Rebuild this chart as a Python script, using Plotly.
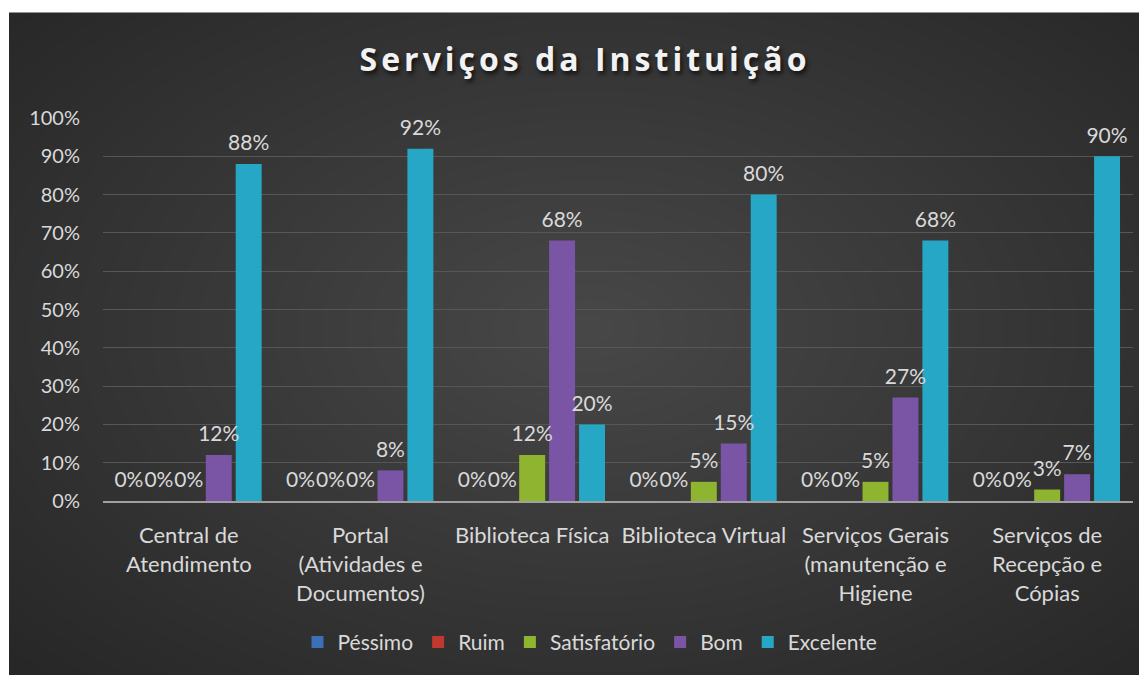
import plotly.graph_objects as go

categories = [
    "Central de<br>Atendimento",
    "Portal<br>(Atividades e<br>Documentos)",
    "Biblioteca Física",
    "Biblioteca Virtual",
    "Serviços Gerais<br>(manutenção e<br>Higiene",
    "Serviços de<br>Recepção e<br>Cópias",
]
series_names = ["Péssimo", "Ruim", "Satisfatório", "Bom", "Excelente"]
pessimo = [0, 0, 0, 0, 0, 0]
ruim = [0, 0, 0, 0, 0, 0]
satisfatorio = [0, 0, 12, 5, 5, 3]
bom = [12, 8, 68, 15, 27, 7]
excelente = [88, 92, 20, 80, 68, 90]
tick_vals = [0, 10, 20, 30, 40, 50, 60, 70, 80, 90, 100]
tick_text = ["0%", "10%", "20%", "30%", "40%", "50%", "60%", "70%", "80%", "90%", "100%"]

series_values = [pessimo, ruim, satisfatorio, bom, excelente]
colors = ["#3b6fb6", "#c0392f", "#8fb430", "#7a55a6", "#27a7c6"]

# page has an 8px body margin; figure coordinates = reference pixels - 8
OFF = 8
W, H = 1147 - OFF, 675 - OFF
ML, MR, MT, MB = 95, 14, 110, 172
PW, PH = W - ML - MR, H - MT - MB
GAP = 0.128

def px(x):  # reference pixel -> paper x
    return (x - OFF - ML) / PW

def py(y):  # reference pixel -> paper y
    return (H - MB - (y - OFF)) / PH

fig = go.Figure()
for name, vals, c in zip(series_names, series_values, colors):
    fig.add_trace(go.Bar(
        name=name, x=categories, y=vals,
        marker=dict(color=c, line=dict(width=0)),
    ))
for name, vals in zip(series_names, series_values):
    fig.add_trace(go.Scatter(
        name=name + " rótulo", x=categories, y=vals, mode="markers+text",
        marker=dict(size=12, opacity=0), showlegend=False,
        text=[f"{v}%" for v in vals], textposition="top center",
        textfont=dict(color="#d9d9d9", size=21, family="Lato"),
        cliponaxis=False, hoverinfo="skip",
    ))

shapes = [dict(type="rect", xref="paper", yref="paper",
               x0=px(9), x1=px(1160), y0=py(690), y1=py(12),
               fillcolor="#272727", line=dict(width=0), layer="below")]
cx, cy = 590, 330
n = 32
for i in range(n):
    f = 1 - i / n
    rx, ry = 780 * f, 480 * f
    shapes.append(dict(type="circle", xref="paper", yref="paper",
                       x0=px(cx - rx), x1=px(cx + rx), y0=py(cy + ry), y1=py(cy - ry),
                       fillcolor="rgba(255,255,255,0.0062)", line=dict(width=0), layer="below"))

title_html = '<span style="letter-spacing:4px"><b>Serviços da Instituição</b></span>'

fig.update_layout(
    width=W, height=H,
    margin=dict(l=ML, r=MR, t=MT, b=MB),
    paper_bgcolor="white", plot_bgcolor="rgba(0,0,0,0)",
    barmode="group", bargap=GAP, bargroupgap=0.133,
    scattermode="group", scattergap=GAP,
    font=dict(family="Lato", color="#d9d9d9", size=20),
    title=dict(text=title_html, x=(585 - OFF) / W, xanchor="center",
               y=1 - (60 - OFF) / H, yanchor="middle",
               font=dict(family="Open Sans", size=32, color="#f2f2f2",
                         shadow="2px 3px 4px #111111")),
    xaxis=dict(showline=True, linecolor="#a0a0a0", linewidth=2, ticks="",
               tickfont=dict(size=22, color="#d9d9d9"), showgrid=False,
               ticklabelstandoff=14),
    yaxis=dict(range=[0, 100], tickvals=tick_vals, ticktext=tick_text,
               showgrid=True, gridcolor="#575757", gridwidth=1, zeroline=False,
               tickfont=dict(size=20, color="#d9d9d9"), ticklabelstandoff=22),
    legend=dict(orientation="h", x=px(590), xanchor="center", y=py(645), yanchor="middle",
                font=dict(size=21, color="#d9d9d9"), bgcolor="rgba(0,0,0,0)",
                itemwidth=30),
    shapes=shapes,
    showlegend=True,
)

fig.write_html("out.html")
